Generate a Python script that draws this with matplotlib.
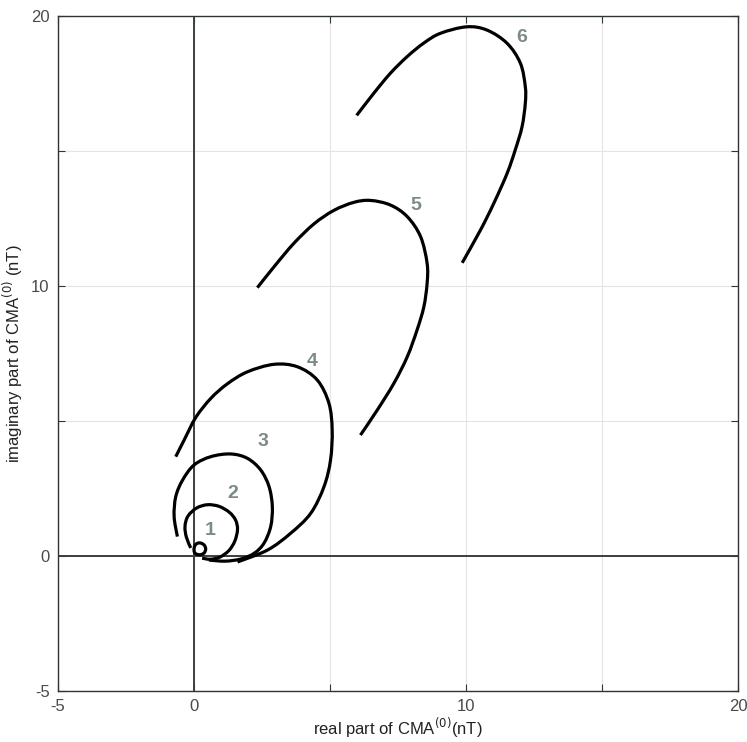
import matplotlib
matplotlib.use("Agg")
import matplotlib.pyplot as plt
import numpy as np
from matplotlib.path import Path
from matplotlib.patches import PathPatch

# ---- data ----
c1_x = [0.00, 0.03, 0.12, 0.25, 0.38, 0.43, 0.38, 0.25, 0.12, 0.03]
c1_y = [0.22, 0.38, 0.47, 0.48, 0.40, 0.26, 0.12, 0.05, 0.06, 0.12]

c2_x = [-0.12, -0.28, -0.33, -0.22, 0.10, 0.50, 0.92, 1.30, 1.53, 1.60, 1.50, 1.28, 0.95, 0.60, 0.30]
c2_y = [0.30, 0.70, 1.10, 1.48, 1.78, 1.90, 1.84, 1.62, 1.33, 0.98, 0.55, 0.20, -0.04, -0.12, -0.08]

c3_x = [-0.61, -0.73, -0.67, -0.42, 0.00, 0.62, 1.35, 1.96, 2.45, 2.76, 2.88, 2.82, 2.57, 2.21, 1.72, 1.15, 0.55]
c3_y = [0.72, 1.46, 2.20, 2.81, 3.37, 3.68, 3.78, 3.62, 3.19, 2.57, 1.83, 1.09, 0.47, 0.10, -0.11, -0.19, -0.15]

c4_x = [-0.67, -0.36, 0.07, 0.62, 1.23, 1.96, 2.94, 3.80, 4.53, 4.96, 5.08, 5.02, 4.78, 4.29, 3.55, 2.70, 1.60]
c4_y = [3.68, 4.30, 5.14, 5.84, 6.38, 6.82, 7.10, 7.01, 6.52, 5.66, 4.67, 3.56, 2.57, 1.58, 0.84, 0.22, -0.22]

c5_x = [2.33, 2.94, 3.67, 4.41, 5.14, 5.88, 6.49, 7.22, 7.84, 8.33, 8.57, 8.57, 8.45, 8.20, 7.84, 7.35, 6.74, 6.12]
c5_y = [9.94, 10.71, 11.58, 12.30, 12.80, 13.10, 13.17, 13.00, 12.57, 11.83, 10.84, 10.10, 9.23, 8.37, 7.38, 6.40, 5.41, 4.48]

c6_x = [5.98, 6.61, 7.22, 7.84, 8.45, 9.06, 10.02, 10.77, 11.51, 12.00, 12.18, 12.18, 12.06, 11.81, 11.51, 11.02, 10.53, 9.86]
c6_y = [16.32, 17.14, 17.88, 18.50, 19.00, 19.36, 19.60, 19.48, 18.99, 18.25, 17.38, 16.77, 15.90, 15.04, 14.17, 13.06, 12.07, 10.86]

curve_labels = ["1", "2", "3", "4", "5", "6"]
label_x = [0.58, 1.43, 2.53, 4.36, 8.14, 12.04]
label_y = [0.93, 2.33, 4.26, 7.19, 13.00, 19.19]

tick_vals = [-5, 0, 5, 10, 15, 20]
tick_labels = ["-5", "0", "", "10", "", "20"]


def smooth_path(xs, ys, closed=False):
    """Catmull-Rom curve through the read points, as cubic Bezier segments."""
    P = np.column_stack([xs, ys]).astype(float)
    n = len(P)
    if closed:
        P = np.vstack([P, P[:1]])
    verts = [P[0]]
    codes = [Path.MOVETO]
    m = len(P)
    for i in range(m - 1):
        if closed:
            p_prev = P[(i - 1) % n]
            p_next2 = P[(i + 2) % n]
        else:
            p_prev = P[i - 1] if i > 0 else P[i]
            p_next2 = P[i + 2] if i + 2 < m else P[i + 1]
        c1 = P[i] + (P[i + 1] - p_prev) / 6.0
        c2 = P[i + 1] - (p_next2 - P[i]) / 6.0
        verts += [c1, c2, P[i + 1]]
        codes += [Path.CURVE4] * 3
    return Path(verts, codes)


# ---- figure ----
plt.rcParams['font.family'] = ['Liberation Sans', 'DejaVu Sans']
fig = plt.figure(figsize=(7.47, 7.42), dpi=100)
ax = fig.add_axes([0.0776, 0.0687, 0.9104, 0.9097])

ax.set_xlim(-5, 20)
ax.set_ylim(-5, 20)

ax.grid(True, color='#e4e4e4', linewidth=0.8)
ax.set_axisbelow(True)

ax.axvline(0, color='#3a3f3f', linewidth=1.4, zorder=1)
ax.axhline(0, color='#3a3f3f', linewidth=1.4, zorder=1)

curves = [(c1_x, c1_y, True), (c2_x, c2_y, False), (c3_x, c3_y, False),
          (c4_x, c4_y, False), (c5_x, c5_y, False), (c6_x, c6_y, False)]
for xs, ys, closed in curves:
    patch = PathPatch(smooth_path(xs, ys, closed), facecolor='none', edgecolor='black',
                      linewidth=2.3, capstyle='butt', joinstyle='round', zorder=3)
    ax.add_patch(patch)

for t, lx, ly in zip(curve_labels, label_x, label_y):
    ax.text(lx, ly, t, color='#7d8b88', fontsize=14, fontweight='bold',
            ha='center', va='center', zorder=4)

ax.set_xticks(tick_vals)
ax.set_xticklabels(tick_labels)
ax.set_yticks(tick_vals)
ax.set_yticklabels(tick_labels)
ax.tick_params(direction='in', length=5, width=0.8, colors='#2f3535',
               top=True, right=True, labelsize=12, labelcolor='#4a4a4a', pad=6)
for s in ax.spines.values():
    s.set_color('#2f3535')
    s.set_linewidth(1.0)

ax.set_xlabel('real part of CMA$^{(0)}$(nT)', fontsize=12, color='#222222')
ax.set_ylabel('imaginary part of CMA$^{(0)}$ (nT)', fontsize=12, color='#222222')
ax.xaxis.set_label_coords(0.5, -0.037)
ax.yaxis.set_label_coords(-0.048, 0.5)

fig.savefig('out.png', dpi=100)
